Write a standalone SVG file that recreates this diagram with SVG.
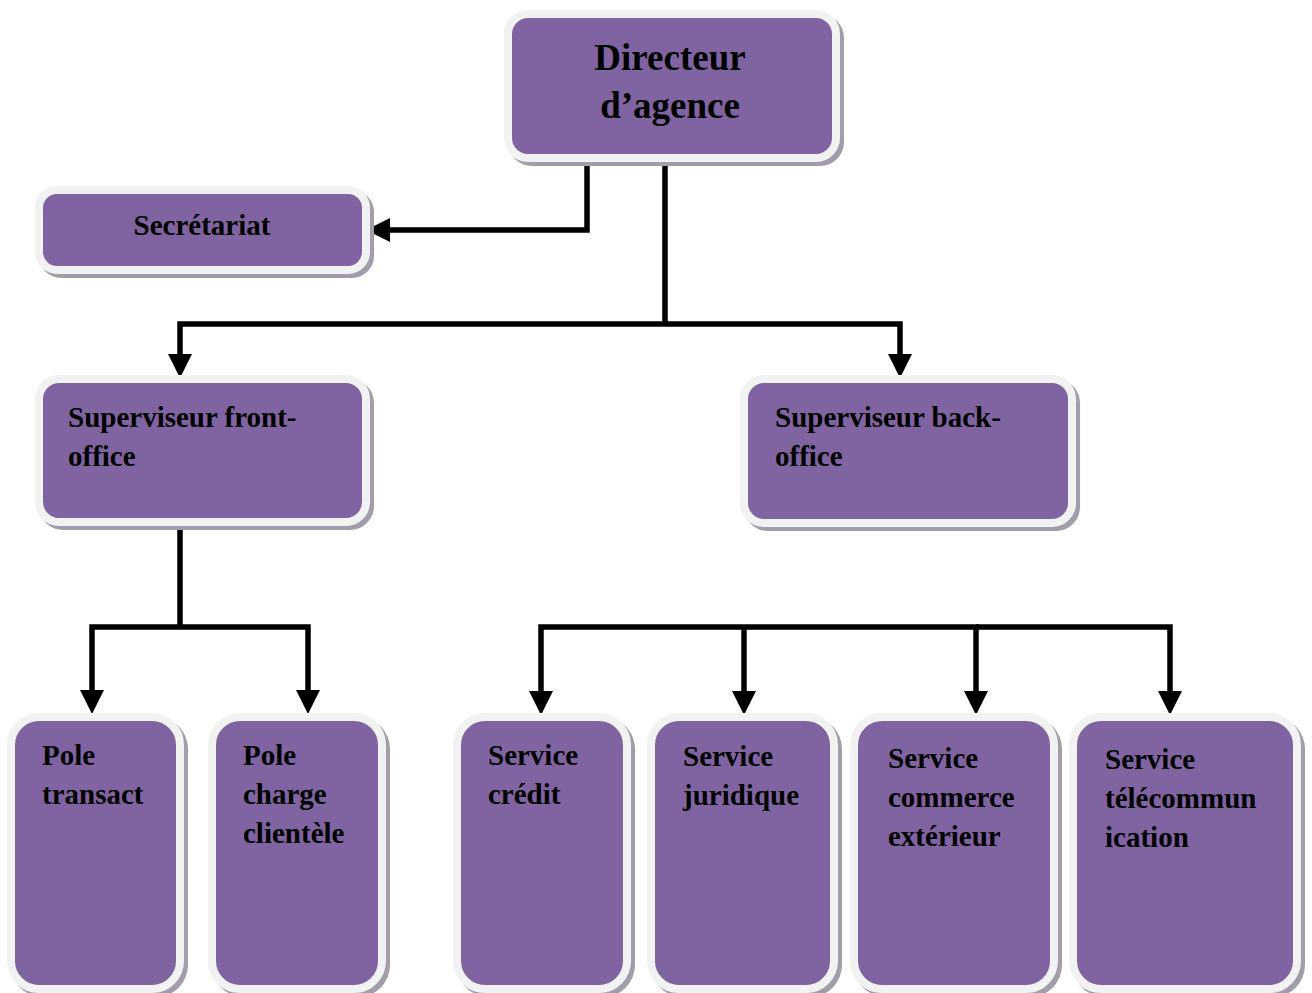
<svg xmlns="http://www.w3.org/2000/svg" width="1312" height="993" viewBox="0 0 1312 993">
<style>
.box{fill:#8064a2;stroke:#f2f2f2;stroke-width:8}
.sh{fill:#a39cab}
.t{font-family:"Liberation Serif","Times New Roman",serif;font-weight:bold;font-size:29px;fill:#000}
.big{font-size:37px}
.c{text-anchor:middle}
.ln{fill:none;stroke:#000;stroke-width:5.5;stroke-linejoin:miter}
</style>
<defs>
<marker id="ah" markerUnits="userSpaceOnUse" markerWidth="24" markerHeight="24" refX="14" refY="12" orient="auto" viewBox="0 0 24 24">
<path d="M0,0 L24,12 L0,24 z" fill="#000"/>
</marker>
</defs>
<rect width="1312" height="993" fill="#fff"/>
<g id="connectors">
<path class="ln" d="M587,157 V230 H376" marker-end="url(#ah)"/>
<path class="ln" d="M665,157 V324"/>
<path class="ln" d="M665,324 H180 V368" marker-end="url(#ah)"/>
<path class="ln" d="M665,324 H900 V368" marker-end="url(#ah)"/>
<path class="ln" d="M180,521 V627"/>
<path class="ln" d="M180,627 H92 V704" marker-end="url(#ah)"/>
<path class="ln" d="M180,627 H308 V704" marker-end="url(#ah)"/>
<path class="ln" d="M744,627 H541 V705" marker-end="url(#ah)"/>
<path class="ln" d="M744,627 V705" marker-end="url(#ah)"/>
<path class="ln" d="M744,627 H976 V705" marker-end="url(#ah)"/>
<path class="ln" d="M976,627 H1170 V705" marker-end="url(#ah)"/>
</g>
<g id="directeur">
<rect class="sh" x="508" y="14" width="336" height="152" rx="24"/>
<rect class="box" x="508" y="14" width="328" height="144" rx="20"/>
<text class="t big c" x="670" y="70">Directeur</text>
<text class="t big c" x="670" y="118">d’agence</text>
</g>
<g id="secretariat">
<rect class="sh" x="39" y="190" width="335" height="88" rx="22"/>
<rect class="box" x="39" y="190" width="327" height="80" rx="18"/>
<text class="t c" x="202" y="235">Secrétariat</text>
</g>
<g id="front">
<rect class="sh" x="39" y="379" width="335" height="151" rx="24"/>
<rect class="box" x="39" y="379" width="327" height="143" rx="20"/>
<text class="t" x="68" y="427">Superviseur front-</text>
<text class="t" x="68" y="466">office</text>
</g>
<g id="back">
<rect class="sh" x="744" y="379" width="336" height="152" rx="24"/>
<rect class="box" x="744" y="379" width="328" height="144" rx="20"/>
<text class="t" x="775" y="427">Superviseur back-</text>
<text class="t" x="775" y="466">office</text>
</g>
<g id="pole-transact">
<rect class="sh" x="11" y="717" width="177" height="280" rx="32"/>
<rect class="box" x="11" y="717" width="169" height="272" rx="28"/>
<text class="t" x="42" y="765">Pole</text>
<text class="t" x="42" y="804">transact</text>
</g>
<g id="pole-charge">
<rect class="sh" x="212" y="717" width="178" height="280" rx="32"/>
<rect class="box" x="212" y="717" width="170" height="272" rx="28"/>
<text class="t" x="243" y="765">Pole</text>
<text class="t" x="243" y="804">charge</text>
<text class="t" x="243" y="843">clientèle</text>
</g>
<g id="service-credit">
<rect class="sh" x="457" y="717" width="178" height="280" rx="32"/>
<rect class="box" x="457" y="717" width="170" height="272" rx="28"/>
<text class="t" x="488" y="765">Service</text>
<text class="t" x="488" y="804">crédit</text>
</g>
<g id="service-juridique">
<rect class="sh" x="651" y="717" width="191" height="280" rx="32"/>
<rect class="box" x="651" y="717" width="183" height="272" rx="28"/>
<text class="t" x="683" y="766">Service</text>
<text class="t" x="683" y="805">juridique</text>
</g>
<g id="service-commerce">
<rect class="sh" x="854" y="717" width="208" height="280" rx="32"/>
<rect class="box" x="854" y="717" width="200" height="272" rx="28"/>
<text class="t" x="888" y="768">Service</text>
<text class="t" x="888" y="807">commerce</text>
<text class="t" x="888" y="846">extérieur</text>
</g>
<g id="service-telecom">
<rect class="sh" x="1073" y="717" width="232" height="280" rx="32"/>
<rect class="box" x="1073" y="717" width="224" height="272" rx="28"/>
<text class="t" x="1105" y="769">Service</text>
<text class="t" x="1105" y="808">télécommun</text>
<text class="t" x="1105" y="847">ication</text>
</g>
</svg>
